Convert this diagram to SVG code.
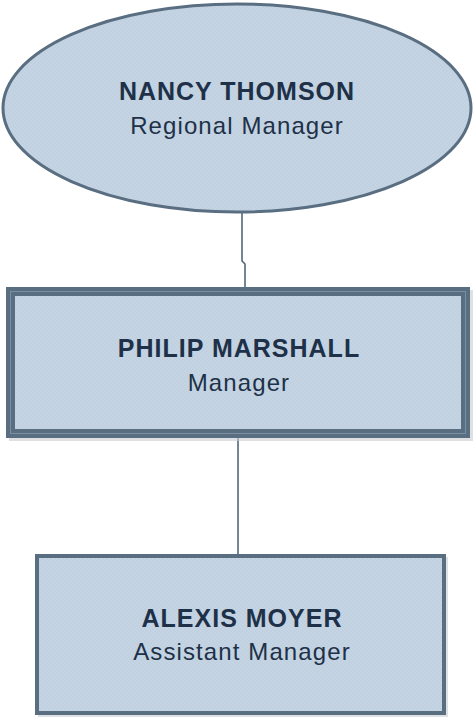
<svg xmlns="http://www.w3.org/2000/svg" width="473" height="717" viewBox="0 0 473 717">
<style>
.fill{fill:url(#dots)}
.name{font-family:"Liberation Sans",Arial,sans-serif;font-weight:bold;font-size:25px;fill:#1e3148;text-anchor:middle;letter-spacing:1px}
.role{font-family:"Liberation Sans",Arial,sans-serif;font-size:24px;fill:#1e3148;text-anchor:middle;letter-spacing:1.1px}
.conn{stroke:#4a5e72;stroke-width:1.5;fill:none}
</style>
<defs>
<pattern id="dots" width="4" height="4" patternUnits="userSpaceOnUse">
<rect width="4" height="4" fill="#c4d4e3"/>
<circle cx="1" cy="1" r="0.6" fill="#b6c8d9"/>
<circle cx="3" cy="3" r="0.6" fill="#b6c8d9"/>
</pattern>
</defs>
<g id="connectors">
<path class="conn" d="M242,212 V261 L245,264 V298"/>
<path class="conn" d="M238,438 V560"/>
</g>
<g id="nancy">
<ellipse cx="237" cy="108" rx="234" ry="104" class="fill" stroke="#5a6e82" stroke-width="3"/>
<text class="name" x="237" y="100">NANCY THOMSON</text>
<text class="role" x="237" y="134">Regional Manager</text>
</g>
<g id="philip">
<rect x="9" y="290" width="464" height="151" fill="#c8ccd0" opacity="0.6"/>
<rect x="10.5" y="291.5" width="455" height="142" class="fill" stroke="#5a6e82" stroke-width="9"/>
<rect x="10.5" y="291.5" width="455" height="142" fill="none" stroke="#7b8fa3" stroke-width="1"/>
<text class="name" x="239" y="357">PHILIP MARSHALL</text>
<text class="role" x="239" y="391">Manager</text>
</g>
<g id="alexis">
<rect x="38" y="557" width="410" height="160" fill="#c8ccd0" opacity="0.6"/>
<rect x="37" y="556" width="407" height="157" class="fill" stroke="#5a6e82" stroke-width="4"/>
<text class="name" x="242" y="627">ALEXIS MOYER</text>
<text class="role" x="242" y="660">Assistant Manager</text>
</g>
</svg>
